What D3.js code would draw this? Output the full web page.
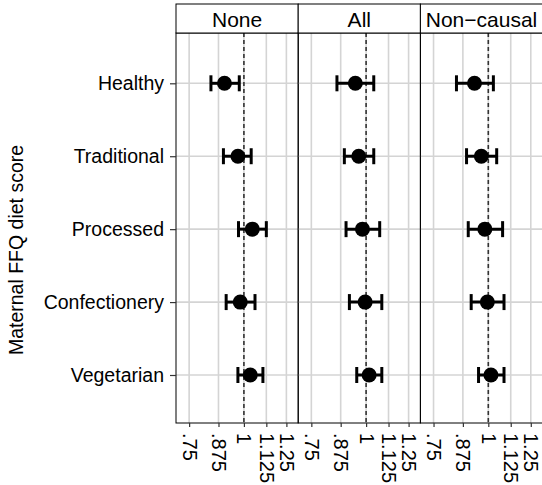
<!DOCTYPE html>
<html><head><meta charset="utf-8">
<script src="https://cdn.jsdelivr.net/npm/d3@7"></script>
<style>html,body{margin:0;padding:0;background:#fff;} svg{display:block;} text{font-family:"Liberation Sans",Arial,Helvetica,sans-serif;fill:#000;}</style>
</head><body>
<script>
const categories = ["Healthy","Traditional","Processed","Confectionery","Vegetarian"];
const panels = ["None","All","Non\u2212causal"];
const tickValues = [0.75, 0.875, 1, 1.125, 1.25];
const tickLabels = [".75", ".875", "1", "1.125", "1.25"];
// estimates (panel x category)
const estNone = [0.903, 0.969, 1.045, 0.981, 1.034];
const lowNone = [0.841, 0.898, 0.972, 0.911, 0.969];
const highNone = [0.976, 1.039, 1.125, 1.060, 1.105];
const estAll = [0.945, 0.962, 0.981, 0.995, 1.016];
const lowAll = [0.858, 0.892, 0.900, 0.916, 0.952];
const highAll = [1.041, 1.041, 1.074, 1.086, 1.086];
const estNC = [0.930, 0.964, 0.982, 0.995, 1.014];
const lowNC = [0.846, 0.892, 0.900, 0.914, 0.950];
const highNC = [1.027, 1.045, 1.078, 1.086, 1.086];
const yTitle = "Maternal FFQ diet score";

const series = [
  {est: estNone, low: lowNone, high: highNone},
  {est: estAll, low: lowAll, high: highAll},
  {est: estNC, low: lowNC, high: highNC}
];

const W = 542, H = 485;
const svg = d3.select("body").append("svg").attr("width", W).attr("height", H);

const panelLeft0 = 176, panelW = 122.2, stripTop = 4, panelTop = 33, panelBottom = 423;
const x = d3.scaleLog().domain([0.70, 1.33]).range([0, panelW]);
const y = d3.scalePoint().domain(categories).range([83.3, 375]).padding(0);

panels.forEach((p, i) => {
  const g = svg.append("g").attr("transform", `translate(${panelLeft0 + i * panelW},0)`);
  g.selectAll(".vg").data(tickValues).enter().append("line")
    .attr("x1", d => x(d)).attr("x2", d => x(d))
    .attr("y1", panelTop).attr("y2", panelBottom)
    .attr("stroke", "#d4d4d4").attr("stroke-width", 1.6);
  g.selectAll(".hg").data(categories).enter().append("line")
    .attr("x1", 0).attr("x2", panelW)
    .attr("y1", d => y(d)).attr("y2", d => y(d))
    .attr("stroke", "#d4d4d4").attr("stroke-width", 1.6);
  g.append("line").attr("x1", x(1)).attr("x2", x(1))
    .attr("y1", panelTop).attr("y2", panelBottom)
    .attr("stroke", "#333").attr("stroke-width", 1.6).attr("stroke-dasharray", "4,3");
  const s = series[i];
  categories.forEach((c, k) => {
    const yy = y(c);
    g.append("line").attr("x1", x(s.low[k])).attr("x2", x(s.high[k]))
      .attr("y1", yy).attr("y2", yy).attr("stroke", "#000").attr("stroke-width", 3);
    [s.low[k], s.high[k]].forEach(v => {
      g.append("line").attr("x1", x(v)).attr("x2", x(v))
        .attr("y1", yy - 8).attr("y2", yy + 8).attr("stroke", "#000").attr("stroke-width", 3);
    });
    g.append("circle").attr("cx", x(s.est[k])).attr("cy", yy).attr("r", 7.5).attr("fill", "#000");
  });
  g.append("rect").attr("x", 0).attr("y", panelTop).attr("width", panelW).attr("height", panelBottom - panelTop)
    .attr("fill", "none").attr("stroke", "#000").attr("stroke-width", 1);
  g.append("rect").attr("x", 0).attr("y", stripTop).attr("width", panelW).attr("height", panelTop - stripTop)
    .attr("fill", "#fff").attr("stroke", "#000").attr("stroke-width", 1);
  g.append("text").attr("x", panelW / 2).attr("y", (stripTop + panelTop) / 2 + 1)
    .attr("text-anchor", "middle").attr("dominant-baseline", "central")
    .attr("font-size", 21).text(p);
  const ax = g.append("g").attr("transform", `translate(0,${panelBottom})`)
    .call(d3.axisBottom(x).tickValues(tickValues).tickSize(4).tickPadding(0)
      .tickFormat((d, j) => tickLabels[j]));
  ax.select(".domain").remove();
  ax.selectAll(".tick line").attr("stroke", "#333").attr("stroke-width", 1.2);
  ax.selectAll(".tick text")
    .attr("font-size", 20).attr("font-family", "Liberation Sans, Arial, sans-serif")
    .attr("text-anchor", "start").attr("dy", null).attr("y", 0)
    .attr("dominant-baseline", "central")
    .attr("transform", "translate(0,10) rotate(90)");
});

const ay = svg.append("g").attr("transform", `translate(${panelLeft0},0)`)
  .call(d3.axisLeft(y).tickSize(6).tickPadding(6));
ay.select(".domain").remove();
ay.selectAll(".tick line").attr("stroke", "#333").attr("stroke-width", 1.2);
ay.selectAll(".tick text").attr("font-size", 19.5).attr("font-family", "Liberation Sans, Arial, sans-serif");

svg.append("text").attr("transform", `translate(16,250) rotate(-90)`)
  .attr("text-anchor", "middle").attr("dominant-baseline", "central")
  .attr("font-size", 19.5).text(yTitle);
</script>
</body></html>
